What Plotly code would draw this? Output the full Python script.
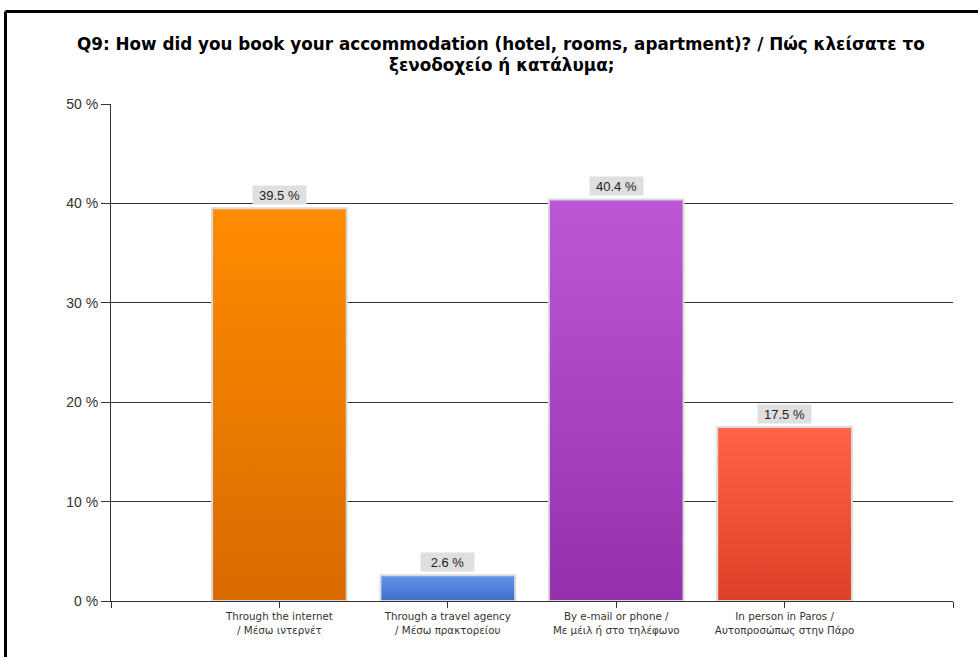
import plotly.graph_objects as go

# Survey answers for Q9
title_lines = [
    "Q9: How did you book your accommodation (hotel, rooms, apartment)? / Πώς κλείσατε το",
    "ξενοδοχείο ή κατάλυμα;",
]
categories = [
    "Through the internet<br>/ Μέσω ιντερνέτ",
    "Through a travel agency<br>/ Μέσω πρακτορείου",
    "By e-mail or phone /<br>Με μέιλ ή στο τηλέφωνο",
    "In person in Paros /<br>Αυτοπροσώπως στην Πάρο",
]
values = [39.5, 2.6, 40.4, 17.5]
top_colors = ["#ff8c00", "#6495ed", "#bc58d6", "#ff6347"]
bottom_colors = ["#d96a00", "#3a6fca", "#9530ad", "#dc4026"]
y_ticks = [0, 10, 20, 30, 40, 50]

BAR_HALF = 0.4
positions = list(range(1, len(categories) + 1))

fig = go.Figure()

# Each bar is a filled rectangle with a vertical colour gradient
for pos, val, c_top, c_bot in zip(positions, values, top_colors, bottom_colors):
    fig.add_trace(go.Scatter(
        x=[pos - BAR_HALF, pos + BAR_HALF, pos + BAR_HALF, pos - BAR_HALF, pos - BAR_HALF],
        y=[0, 0, val, val, 0],
        mode="lines",
        fill="toself",
        fillgradient=dict(type="vertical", colorscale=[[0, c_bot], [1, c_top]]),
        line=dict(color="#dadada", width=2),
        hoverinfo="skip",
        showlegend=False,
    ))
    fig.add_annotation(
        x=pos, y=val, xref="x", yref="y",
        text=f"{val:.1f} %",
        showarrow=False,
        yanchor="bottom", yshift=3,
        bgcolor="#dfdfdf",
        borderpad=1.5,
        width=50,
        font=dict(family="Liberation Sans, Arial, sans-serif", size=13, color="#222"),
    )

# Two-line heading
for line_text, y_pos in zip(title_lines, [1.1207, 1.0785]):
    fig.add_annotation(
        x=0.4637, y=y_pos, xref="paper", yref="paper",
        text=f"<b>{line_text}</b>",
        showarrow=False,
        xanchor="center", yanchor="middle",
        font=dict(family="DejaVu Sans, Verdana, sans-serif", size=16.8, color="#000"),
    )

# Outer frame (top and left edges)
fig.add_shape(type="line", xref="paper", yref="paper",
              x0=-0.1253, x1=1.05, y0=1.186, y1=1.186,
              line=dict(color="#000", width=3))
fig.add_shape(type="line", xref="paper", yref="paper",
              x0=-0.1253, x1=-0.1253, y0=1.186, y1=-0.2,
              line=dict(color="#000", width=3))

fig.update_layout(
    width=978, height=657,
    margin=dict(l=111, r=25, t=104, b=56),
    paper_bgcolor="white",
    plot_bgcolor="white",
    xaxis=dict(
        range=[0, 5],
        tickmode="array",
        tickvals=[0] + positions + [5],
        ticktext=[""] + categories + [""],
        ticks="outside", ticklen=6, tickcolor="#333",
        showline=True, linecolor="#333", linewidth=1,
        showgrid=False, zeroline=False,
        tickfont=dict(family="DejaVu Sans, Verdana, sans-serif", size=10.3, color="#333"),
        fixedrange=True,
    ),
    yaxis=dict(
        range=[0, 50],
        tickmode="array",
        tickvals=y_ticks,
        ticktext=[f"{t} %" for t in y_ticks],
        ticks="outside", ticklen=9, tickcolor="#333",
        showline=True, linecolor="#333", linewidth=1,
        showgrid=True, gridcolor="#333", gridwidth=1,
        zeroline=False,
        tickfont=dict(family="Liberation Sans, Arial, sans-serif", size=14, color="#333"),
        fixedrange=True,
    ),
)

fig.write_html("out.html")
